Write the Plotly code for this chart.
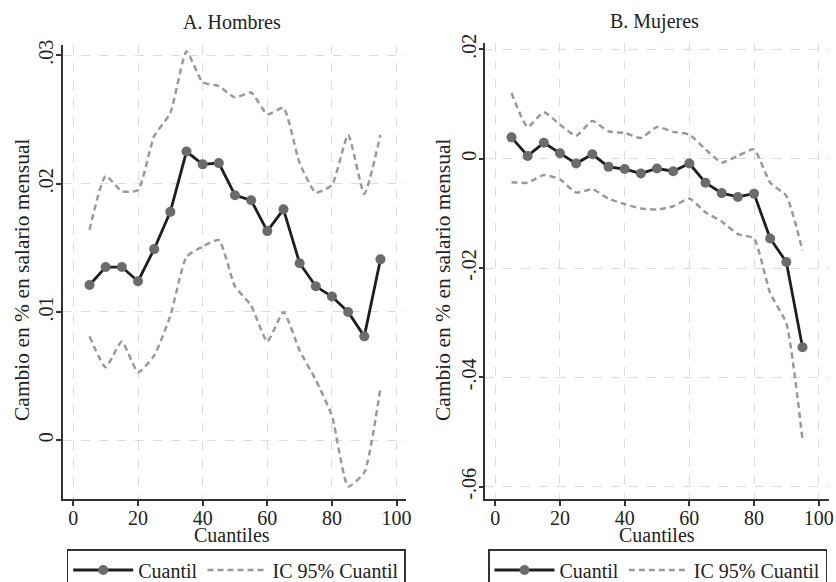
import plotly.graph_objects as go

# ---------------- data ----------------
cuantiles = [5, 10, 15, 20, 25, 30, 35, 40, 45, 50, 55, 60, 65, 70, 75, 80, 85, 90, 95]

hombres_q = [0.0121, 0.0135, 0.0135, 0.0124, 0.0149, 0.0178, 0.0225, 0.0215, 0.0216,
             0.0191, 0.0187, 0.0163, 0.0180, 0.0138, 0.0120, 0.0112, 0.0100, 0.0081, 0.0141]
hombres_hi = [0.0164, 0.0206, 0.0194, 0.0195, 0.0237, 0.0255, 0.0303, 0.0279, 0.0276,
              0.0267, 0.0271, 0.0254, 0.0259, 0.0216, 0.0193, 0.0199, 0.0238, 0.0192, 0.0238]
hombres_lo = [0.0081, 0.0057, 0.0077, 0.0053, 0.0066, 0.0097, 0.0143, 0.0151, 0.0156,
              0.0120, 0.0105, 0.0077, 0.0100, 0.0070, 0.0047, 0.0019, -0.0036, -0.0025, 0.0041]

mujeres_q = [0.0039, 0.0005, 0.0029, 0.0010, -0.0009, 0.0008, -0.0015, -0.0019, -0.0027,
             -0.0018, -0.0023, -0.0009, -0.0044, -0.0063, -0.0070, -0.0064, -0.0146, -0.0189, -0.0345]
mujeres_hi = [0.0120, 0.0058, 0.0085, 0.0062, 0.0042, 0.0069, 0.0050, 0.0047, 0.0038,
              0.0058, 0.0049, 0.0044, 0.0017, -0.0007, 0.0005, 0.0017, -0.0044, -0.0068, -0.0168]
mujeres_lo = [-0.0043, -0.0044, -0.0030, -0.0038, -0.0062, -0.0056, -0.0073, -0.0083, -0.0091,
              -0.0093, -0.0087, -0.0073, -0.0098, -0.0115, -0.0138, -0.0146, -0.0246, -0.0301, -0.0514]

x_ticks = [0, 20, 40, 60, 80, 100]
y_ticks_h = [0, 0.01, 0.02, 0.03]
y_text_h = ["0", ".01", ".02", ".03"]
y_ticks_m = [-0.06, -0.04, -0.02, 0, 0.02]
y_text_m = ["-.06", "-.04", "-.02", "0", ".02"]

titles = ["A. Hombres", "B. Mujeres"]
y_title = "Cambio en % en salario mensual"
x_title = "Cuantiles"
name_q = "Cuantil"
name_ci = "IC 95% Cuantil"

# ---------------- style ----------------
FONT = "Liberation Serif"
TXT = "#222222"
LINE_C = "#1e1e1e"
MARK_C = "#6b6b6b"
CI_C = "#9a9a9a"
GRID_C = "#dcdcdc"
AX_C = "#333333"
W, H = 836, 582

fig = go.Figure()


def add_panel(q, hi, lo, xa, ya, leg):
    fig.add_trace(go.Scatter(x=cuantiles, y=q, mode="lines+markers", name=name_q,
                             line=dict(color=LINE_C, width=2.8),
                             marker=dict(color=MARK_C, size=10),
                             xaxis=xa, yaxis=ya, legend=leg))
    fig.add_trace(go.Scatter(x=cuantiles, y=hi, mode="lines", name=name_ci,
                             line=dict(color=CI_C, width=2.5, dash="6px,4px", shape="spline", smoothing=0.5),
                             xaxis=xa, yaxis=ya, legend=leg))
    fig.add_trace(go.Scatter(x=cuantiles, y=lo, mode="lines", name=name_ci, showlegend=False,
                             line=dict(color=CI_C, width=2.5, dash="6px,4px", shape="spline", smoothing=0.5),
                             xaxis=xa, yaxis=ya, legend=leg))


add_panel(hombres_q, hombres_hi, hombres_lo, "x", "y", "legend")
add_panel(mujeres_q, mujeres_hi, mujeres_lo, "x2", "y2", "legend2")

common_x = dict(tickvals=x_ticks, showline=True, linecolor=AX_C, linewidth=1.5,
                ticks="outside", ticklen=5, tickcolor=AX_C, tickwidth=1.5,
                showgrid=True, gridcolor=GRID_C, griddash="dash", gridwidth=1.2,
                zeroline=False, tickfont=dict(size=20, family=FONT, color=TXT),
                ticklabelstandoff=-5)
common_y = dict(showline=True, linecolor=AX_C, linewidth=1.5,
                ticks="outside", ticklen=5, tickcolor=AX_C, tickwidth=1.5,
                showgrid=True, gridcolor=GRID_C, griddash="dash", gridwidth=1.2,
                zeroline=False, tickangle=-90, tickfont=dict(size=20, family=FONT, color=TXT),
                ticklabelstandoff=-5)

leg_common = dict(orientation="h", xanchor="left", yanchor="top", y=(H - 549) / H,
                  bordercolor=AX_C, borderwidth=1.5, bgcolor="white",
                  font=dict(size=20, family=FONT, color=TXT), itemwidth=60)


def ann(text, x, y, size=20, angle=0):
    return dict(text=text, x=x / W, y=(H - y) / H, xref="paper", yref="paper",
                xanchor="center", yanchor="middle", showarrow=False, textangle=angle,
                font=dict(size=size, family=FONT, color=TXT))


fig.update_layout(
    width=W, height=H,
    paper_bgcolor="white", plot_bgcolor="white",
    margin=dict(l=0, r=0, t=0, b=0, autoexpand=False),
    font=dict(family=FONT, color=TXT, size=20),
    xaxis=dict(common_x, domain=[63 / W, 406 / W], range=[-3.2, 102.9], anchor="y"),
    yaxis=dict(common_y, domain=[(H - 499) / H, (H - 45) / H], range=[-0.00457, 0.0308],
               tickvals=y_ticks_h, ticktext=y_text_h, anchor="x"),
    xaxis2=dict(common_x, domain=[485.3 / W, 828.7 / W], range=[-3.1, 103.1], anchor="y2"),
    yaxis2=dict(common_y, domain=[(H - 499) / H, (H - 43.3) / H], range=[-0.06225, 0.0211],
                tickvals=y_ticks_m, ticktext=y_text_m, anchor="x2"),
    legend=dict(leg_common, x=66.7 / W),
    legend2=dict(leg_common, x=488 / W),
    annotations=[
        ann(titles[0], 232, 22),
        ann(titles[1], 654, 22),
        ann(x_title, 232, 535),
        ann(x_title, 657, 535),
        ann(y_title, 22, 280, size=21.5, angle=-90),
        ann(y_title, 443, 280, size=21.5, angle=-90),
    ],
)

fig.write_html("out.html", config={"displayModeBar": False},
               post_script="document.body.style.margin='0';document.body.style.overflow='hidden';")
